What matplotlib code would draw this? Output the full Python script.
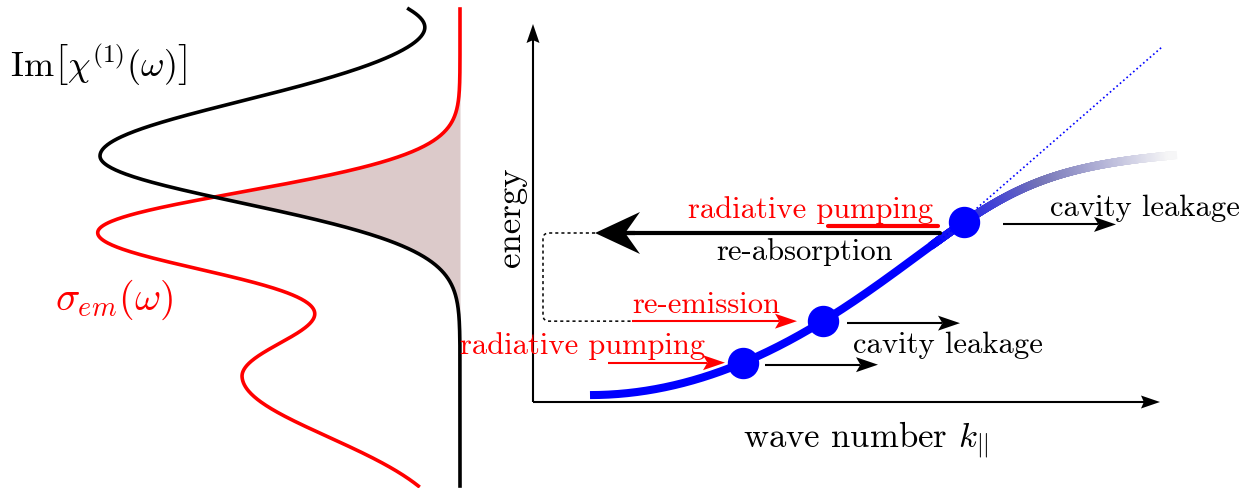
import numpy as np
import matplotlib.pyplot as plt
from matplotlib.collections import LineCollection
from matplotlib.colors import LinearSegmentedColormap
from matplotlib.patches import Polygon, PathPatch
from matplotlib.path import Path

plt.rcParams['mathtext.fontset'] = 'cm'
plt.rcParams['font.family'] = ['cmr10', 'DejaVu Serif']

# ---- 左图：吸收谱与发射谱（频率沿竖直方向） ----
omega = np.linspace(-84, 393, 700)
spec_base = -73
# Im chi(1)：峰位、峰高、上侧宽度、下侧宽度
abs_center = [246, 423]
abs_height = [360, 90]
abs_sig_up = [55, 24]
abs_sig_dn = [47, 24]
# sigma_em：两个峰
em_center = [170, 25]
em_height = [360, 217]
em_sig_up = [40, 48]
em_sig_dn = [42, 60]

# ---- 右图：下极化激元色散 ----
k = np.linspace(57, 640, 500)
E_cav0, cav_curv, k_start = 24, 0.00149, 57
E_exc, g_rabi = 262, 66
dot_k = np.array([210, 290, 431])
leak_start = [232, 314, 470]
light_k = [397, 629]
light_E = [153, 355]

axis_len_k, axis_len_E = 627, 378
reabs_E, reabs_from, reabs_to = 169, 407, 62
pump_top_E, pump_top = 176, [295, 405]
pump_low = [75, 192]
reemit = [99, 264]
leak_len = 113
fade_from, fade_len = 400, 240


def peaks(w, c, h, su, sd):
    out = np.zeros_like(w)
    for ci, hi, a, b in zip(c, h, su, sd):
        s = np.where(w >= ci, a, b)
        out += hi * np.exp(-(w - ci) ** 2 / (2 * s ** 2))
    return out


def lower_polariton(kk):
    ec = E_cav0 + cav_curv * (kk - k_start) ** 2
    d = (E_exc - ec) / 2
    return E_exc - d - np.sqrt(d ** 2 + g_rabi ** 2)


fig = plt.figure(figsize=(12.41, 4.89), dpi=100)
ax = fig.add_axes([0, 0, 1, 1])
ax.set_xlim(-533, 708)
ax.set_ylim(-86, 403)
ax.axis('off')


def arrow(x0, y0, x1, y1, color='black', lw=1.5, hl=22, hw=7.5, inset=0.2, z=3):
    u = np.array([x1 - x0, y1 - y0], float)
    u /= np.hypot(*u)
    n = np.array([-u[1], u[0]])
    tip = np.array([x1, y1], float)
    back = tip - hl * (1 - inset) * u
    ax.plot([x0, back[0]], [y0, back[1]], color=color, lw=lw,
            solid_capstyle='butt', zorder=z)
    head = [tip, tip - hl * u + hw * n, back, tip - hl * u - hw * n]
    ax.add_patch(Polygon(head, closed=True, color=color, lw=0, zorder=z))


# 左图
a_abs = peaks(omega, abs_center, abs_height, abs_sig_up, abs_sig_dn)
a_em = peaks(omega, em_center, em_height, em_sig_up, em_sig_dn)
ax.fill_betweenx(omega, spec_base - np.minimum(a_abs, a_em), spec_base,
                 color='#dccaca', lw=0, zorder=1)
ax.plot(spec_base - a_em, omega, color='red', lw=2.6, zorder=2)
ax.plot(spec_base - a_abs, omega, color='black', lw=2.6, zorder=2)
ax.text(-523, 338, r'$\mathrm{Im}\left[\chi^{(1)}(\omega)\right]$',
        fontsize=26, va='center', ha='left')
ax.text(-478, 103, r'$\sigma_{em}(\omega)$', fontsize=29, color='red',
        va='center', ha='left')

# 右图坐标轴
arrow(0, 0, axis_len_k, 0, lw=1.5, hl=19, hw=6.5, inset=0.15)
arrow(0, 0, 0, axis_len_E, lw=1.5, hl=19, hw=6.5, inset=0.15)
ax.text(-22, 186, 'energy', fontsize=25, rotation=90, ha='center', va='center')
ax.text(333, -44, r'wave number $k_{||}$', fontsize=25, ha='center',
        va='baseline')

# 色散曲线：实心蓝色部分 + 渐隐部分
E = lower_polariton(k)
solid = k <= fade_from + 2
ax.plot(k[solid], E[solid], color='blue', lw=5.8, solid_capstyle='butt',
        zorder=3)
kf = k[k >= fade_from]
Ef = E[k >= fade_from]
pts = np.column_stack([kf, Ef]).reshape(-1, 1, 2)
segs = np.concatenate([pts[:-1], pts[1:]], axis=1)
cmap = LinearSegmentedColormap.from_list(
    'fade', [(0, (0, 0, 1)), (0.45, (0.45, 0.45, 0.72)), (1, (0.97, 0.97, 0.97))])
t = np.clip((kf[:-1] - fade_from) / fade_len, 0, 1)
lc = LineCollection(segs, colors=cmap(t), linewidths=5.8,
                    capstyle='projecting', zorder=3)
ax.add_collection(lc)
ax.plot(light_k, light_E, ':', color='blue', lw=1.2, zorder=4)
dot_E = lower_polariton(dot_k)
ax.plot(dot_k, dot_E, 'o', ms=21.6, color='blue', mec='blue', zorder=5)

# 腔泄漏箭头
for ks, ed in zip(leak_start, dot_E):
    arrow(ks, ed - 2, ks + leak_len, ed - 2)
ax.text(517, 187, 'cavity leakage', fontsize=22, va='baseline')
ax.text(320, 50, 'cavity leakage', fontsize=22, va='baseline')

# 辐射泵浦与再发射
arrow(pump_low[0], dot_E[0], pump_low[1], dot_E[0], color='red')
ax.text(-73, 49, 'radiative pumping', fontsize=22, color='red', va='baseline')
arrow(reemit[0], dot_E[1], reemit[1], dot_E[1], color='red')
ax.text(99, 90, 're-emission', fontsize=22, color='red', va='baseline')

# 再吸收
ax.plot(pump_top, [pump_top_E, pump_top_E], color='red', lw=3,
        solid_capstyle='round', zorder=3)
ax.plot([reabs_to + 30, reabs_from], [reabs_E, reabs_E], color='black', lw=3,
        solid_capstyle='round', zorder=3)
arrow(reabs_to + 40, reabs_E, reabs_to, reabs_E, lw=3, hl=45, hw=21, inset=0.33)
ax.text(155, 185, 'radiative pumping', fontsize=22, color='red', va='baseline')
ax.text(183, 143, 're-absorption', fontsize=22, va='baseline')

# 虚线连接
xl, r = 10, 6
verts = [(reabs_to, reabs_E), (xl + r, reabs_E), (xl, reabs_E), (xl, reabs_E - r),
         (xl, dot_E[1] + r), (xl, dot_E[1]), (xl + r, dot_E[1]), (reemit[0], dot_E[1])]
codes = [Path.MOVETO, Path.LINETO, Path.CURVE3, Path.CURVE3,
         Path.LINETO, Path.CURVE3, Path.CURVE3, Path.LINETO]
ax.add_patch(PathPatch(Path(verts, codes), fill=False, lw=1.1,
                       ls=(0, (2, 2)), color='black', zorder=2))

fig.savefig('out.png', dpi=100)
